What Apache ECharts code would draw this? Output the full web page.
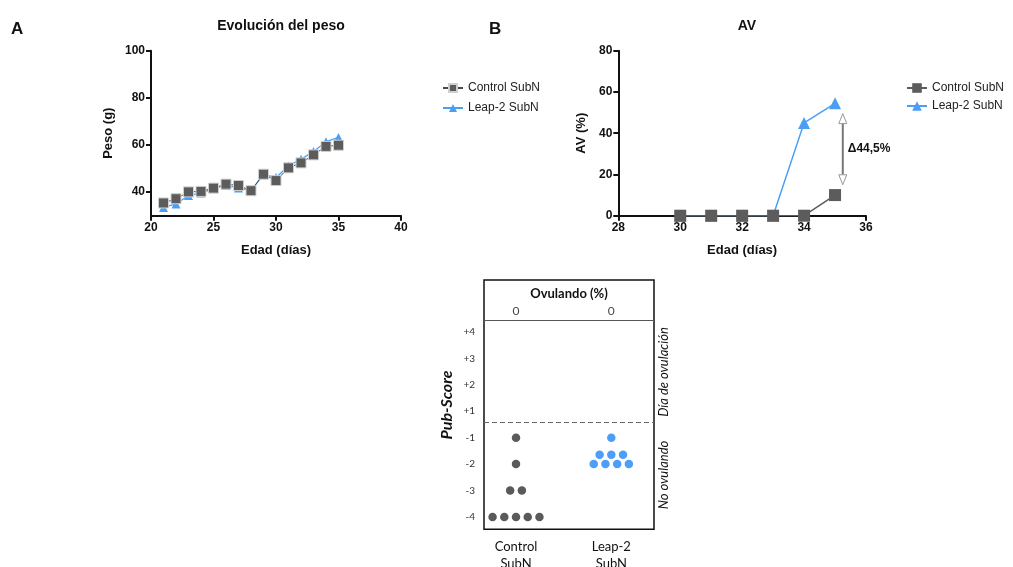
<!DOCTYPE html>
<html>
<head>
<meta charset="utf-8">
<script src="https://cdn.jsdelivr.net/npm/echarts@6/dist/echarts.min.js"></script>
<style>html,body{margin:0;padding:0;background:#fff}#c{width:1013px;height:567px}</style>
</head>
<body>
<div id="c"></div>
<script>
// ---------- Panel A: Evolución del peso ----------
const ageA = [21, 22, 23, 24, 25, 26, 27, 28, 29, 30, 31, 32, 33, 34, 35];
const weightControl = [35.4, 37.2, 40.1, 40.3, 41.7, 43.4, 42.8, 40.6, 47.6, 44.9, 50.3, 52.4, 55.8, 59.4, 59.9];
const weightLeap = [33.5, 35.0, 38.6, 39.6, 41.5, 42.9, 41.8, 40.6, 47.5, 46.2, 51.1, 54.0, 57.2, 61.4, 63.2];
const ticksA_y = [40, 60, 80, 100];

// ---------- Panel B: AV ----------
const ageB = [30, 31, 32, 33, 34, 35];
const avControl = [0, 0, 0, 0, 0, 10];
const avLeap = [0, 0, 0, 0, 45, 54.5];

// ---------- Panel C: Pub-Score ----------
const groupsC = ['Control\nSubN', 'Leap-2\nSubN'];
const scoresControl = [-1, -2, -3, -3, -4, -4, -4, -4, -4];
const scoresLeap = [-1, -2, -2, -2, -2, -2, -2, -2];
const ovulatingPct = [0, 0];
const scoreTickLabels = ['-4', '-3', '-2', '-1', '+1', '+2', '+3', '+4'];

const BLUE = '#4a9ff5';
const GREY = '#5c5c5c';
const FONT = '"Liberation Sans", Arial, sans-serif';
const CFONT = 'Lato, "Open Sans", sans-serif';

function pairs(xs, ys) { return xs.map((x, i) => [x, ys[i]]); }
// score scale has no 0: -4..-1 -> 0..3, +1..+4 -> 4..7
function scorePos(s) { return s < 0 ? s + 4 : s + 3; }
// simple beeswarm layout
function swarm(scores, gi) {
  const counts = {};
  scores.forEach(s => counts[s] = (counts[s] || 0) + 1);
  const out = [];
  Object.keys(counts).forEach(k => {
    const s = +k, n = counts[k];
    const rows = Math.ceil(n / 5), per = Math.ceil(n / rows);
    let left = n;
    for (let r = 0; r < rows; r++) {
      const m = Math.min(per, left); left -= m;
      for (let j = 0; j < m; j++) {
        out.push([gi + (j - (m - 1) / 2) * 0.123, scorePos(s) + r * 0.35]);
      }
    }
  });
  return out;
}

const axisCommon = {
  axisLine: { show: true, lineStyle: { color: '#111', width: 2 } },
  axisTick: { show: true, length: 5, lineStyle: { color: '#111', width: 2 } },
  axisLabel: { color: '#111', fontWeight: 'bold', fontSize: 12, fontFamily: FONT, margin: 6 },
  splitLine: { show: false },
  nameTextStyle: { color: '#111', fontWeight: 'bold', fontSize: 13, fontFamily: FONT }
};

const chart = echarts.init(document.getElementById('c'), null, { renderer: 'canvas' });

const option = {
  backgroundColor: '#fff',
  animation: false,
  title: [
    { text: 'Evolución del peso', left: 276, top: 14, textAlign: 'center',
      textStyle: { fontSize: 14, fontWeight: 'bold', color: '#111', fontFamily: FONT } },
    { text: 'AV', left: 742, top: 14, textAlign: 'center',
      textStyle: { fontSize: 14, fontWeight: 'bold', color: '#111', fontFamily: FONT } },
    { text: 'A', left: 6, top: 16, textStyle: { fontSize: 17, fontWeight: 'bold', color: '#111', fontFamily: FONT } },
    { text: 'B', left: 484, top: 16, textStyle: { fontSize: 17, fontWeight: 'bold', color: '#111', fontFamily: FONT } },
    { text: 'Ovulando (%)', left: 564, top: 282, textAlign: 'center',
      textStyle: { fontSize: 13, fontWeight: 'bold', color: '#111', fontFamily: CFONT } }
  ],
  legend: [
    { data: ['Control SubN', 'Leap-2 SubN'], orient: 'vertical', left: 437, top: 77,
      itemWidth: 20, itemHeight: 10, itemGap: 8,
      textStyle: { fontSize: 12, color: '#222', fontFamily: FONT } },
    { data: ['Control SubN ', 'Leap-2 SubN '], orient: 'vertical', left: 901, top: 77,
      itemWidth: 20, itemHeight: 12, itemGap: 6,
      formatter: n => n.trim(),
      textStyle: { fontSize: 12, color: '#222', fontFamily: FONT } }
  ],
  grid: [
    { left: 151, right: 612, top: 50.7, bottom: 351.3, outerBoundsMode: 'none', containLabel: false },
    { left: 618.3, right: 147, top: 50.7, bottom: 351.3, outerBoundsMode: 'none', containLabel: false },
    { left: 484, right: 359, top: 280, bottom: 37.7, show: true, borderColor: '#111', borderWidth: 1.5,
      backgroundColor: 'transparent', outerBoundsMode: 'none', containLabel: false }
  ],
  xAxis: [
    Object.assign({}, axisCommon, { gridIndex: 0, type: 'value', min: 20, max: 40, interval: 5,
      name: 'Edad (días)', nameLocation: 'middle', nameGap: 28 }),
    Object.assign({}, axisCommon, { gridIndex: 1, type: 'value', min: 28, max: 36, interval: 2,
      name: 'Edad (días)', nameLocation: 'middle', nameGap: 28 }),
    { gridIndex: 2, type: 'value', min: -0.336, max: 1.448,
      axisLine: { show: false }, axisTick: { show: false }, splitLine: { show: false },
      axisLabel: { customValues: [0, 1], formatter: v => groupsC[Math.round(v)],
        color: '#111', fontSize: 13, lineHeight: 17, fontFamily: CFONT, margin: 9 } }
  ],
  yAxis: [
    Object.assign({}, axisCommon, { gridIndex: 0, type: 'value', min: 30, max: 100,
      axisLabel: Object.assign({}, axisCommon.axisLabel, { customValues: ticksA_y }),
      axisTick: Object.assign({}, axisCommon.axisTick, { customValues: ticksA_y }),
      name: 'Peso (g)', nameLocation: 'middle', nameGap: 36 }),
    Object.assign({}, axisCommon, { gridIndex: 1, type: 'value', min: 0, max: 80, interval: 20,
      name: 'AV (%)', nameLocation: 'middle', nameGap: 30 }),
    { gridIndex: 2, type: 'value', min: -0.47, max: 8.97,
      axisLine: { show: false }, axisTick: { show: false }, splitLine: { show: false },
      axisLabel: { customValues: [0, 1, 2, 3, 4, 5, 6, 7], formatter: v => scoreTickLabels[Math.round(v)],
        color: '#333', fontSize: 10, fontFamily: CFONT, margin: 9 } }
  ],
  series: [
    { name: 'Leap-2 SubN', type: 'line', xAxisIndex: 0, yAxisIndex: 0, data: pairs(ageA, weightLeap),
      symbol: 'triangle', symbolSize: 9, lineStyle: { color: BLUE, width: 1.2 },
      itemStyle: { color: BLUE }, z: 2 },
    { name: 'Control SubN', type: 'line', xAxisIndex: 0, yAxisIndex: 0, data: pairs(ageA, weightControl),
      symbol: 'rect', symbolSize: 10, lineStyle: { color: '#4a4a4a', width: 1 },
      itemStyle: { color: GREY, borderColor: '#cfcfcf', borderWidth: 1 }, z: 3 },
    { name: 'Control SubN ', type: 'line', xAxisIndex: 1, yAxisIndex: 1, data: pairs(ageB, avControl),
      symbol: 'rect', symbolSize: 12, lineStyle: { color: GREY, width: 1.5 },
      itemStyle: { color: GREY }, z: 3 },
    { name: 'Leap-2 SubN ', type: 'line', xAxisIndex: 1, yAxisIndex: 1, data: pairs(ageB, avLeap),
      symbol: 'triangle', symbolSize: 12, lineStyle: { color: BLUE, width: 1.5 },
      itemStyle: { color: BLUE }, z: 2 },
    // difference annotation (Δ) between the two AV curves at the last day
    { type: 'custom', xAxisIndex: 1, yAxisIndex: 1, z: 5, silent: true,
      data: [[ageB[ageB.length - 1], avLeap[avLeap.length - 1], avControl[avControl.length - 1]]],
      renderItem: function (params, api) {
        const x = api.value(0) + 0.25;
        const top = api.coord([x, api.value(1) - 5]);
        const bot = api.coord([x, api.value(2) + 5]);
        const diff = (api.value(1) - api.value(2)).toFixed(1).replace('.', ',');
        const hw = 4, hh = 10;
        return { type: 'group', children: [
          { type: 'line', shape: { x1: top[0], y1: top[1] + hh, x2: bot[0], y2: bot[1] - hh },
            style: { stroke: '#777', lineWidth: 2 } },
          { type: 'polygon', shape: { points: [[top[0], top[1]], [top[0] - hw, top[1] + hh], [top[0] + hw, top[1] + hh]] },
            style: { fill: '#fff', stroke: '#999', lineWidth: 1 } },
          { type: 'polygon', shape: { points: [[bot[0], bot[1]], [bot[0] - hw, bot[1] - hh], [bot[0] + hw, bot[1] - hh]] },
            style: { fill: '#fff', stroke: '#999', lineWidth: 1 } },
          { type: 'text', x: top[0] + 5, y: (top[1] + bot[1]) / 2,
            style: { text: 'Δ' + diff + '%', fill: '#111', font: 'bold 12px ' + FONT, textAlign: 'left', textVerticalAlign: 'middle' } }
        ] };
      } },
    // Panel C dots
    { type: 'scatter', xAxisIndex: 2, yAxisIndex: 2, data: swarm(scoresControl, 0), symbolSize: 8.5,
      itemStyle: { color: '#5a5a5a', opacity: 1 },
      markLine: { silent: true, symbol: 'none', label: { show: false },
        data: [
          { yAxis: 7.44, lineStyle: { color: '#555', width: 1, type: 'solid' } },
          { yAxis: 3.6, lineStyle: { color: '#666', width: 1, type: [5, 3] } }
        ] } },
    { type: 'scatter', xAxisIndex: 2, yAxisIndex: 2, data: swarm(scoresLeap, 1), symbolSize: 8.5,
      itemStyle: { color: '#4d9ef7', opacity: 1 } },
    { type: 'scatter', xAxisIndex: 2, yAxisIndex: 2, symbolSize: 0, silent: true,
      data: ovulatingPct.map((v, i) => [i, 7.8, v]),
      label: { show: true, position: 'inside', formatter: p => String(p.value[2]),
        color: '#111', fontSize: 12, fontFamily: CFONT } }
  ],
  graphic: [
    { type: 'text', x: 447, y: 405, rotation: Math.PI / 2,
      style: { text: 'Pub-Score', font: 'italic bold 16px ' + CFONT, fill: '#111', textAlign: 'center', textVerticalAlign: 'middle' } },
    { type: 'text', x: 664, y: 372, rotation: Math.PI / 2,
      style: { text: 'Día de ovulación', font: 'italic 13px ' + CFONT, fill: '#111', textAlign: 'center', textVerticalAlign: 'middle' } },
    { type: 'text', x: 664, y: 475, rotation: Math.PI / 2,
      style: { text: 'No ovulando', font: 'italic 13px ' + CFONT, fill: '#111', textAlign: 'center', textVerticalAlign: 'middle' } }
  ]
};
chart.setOption(option);
</script>
</body>
</html>
